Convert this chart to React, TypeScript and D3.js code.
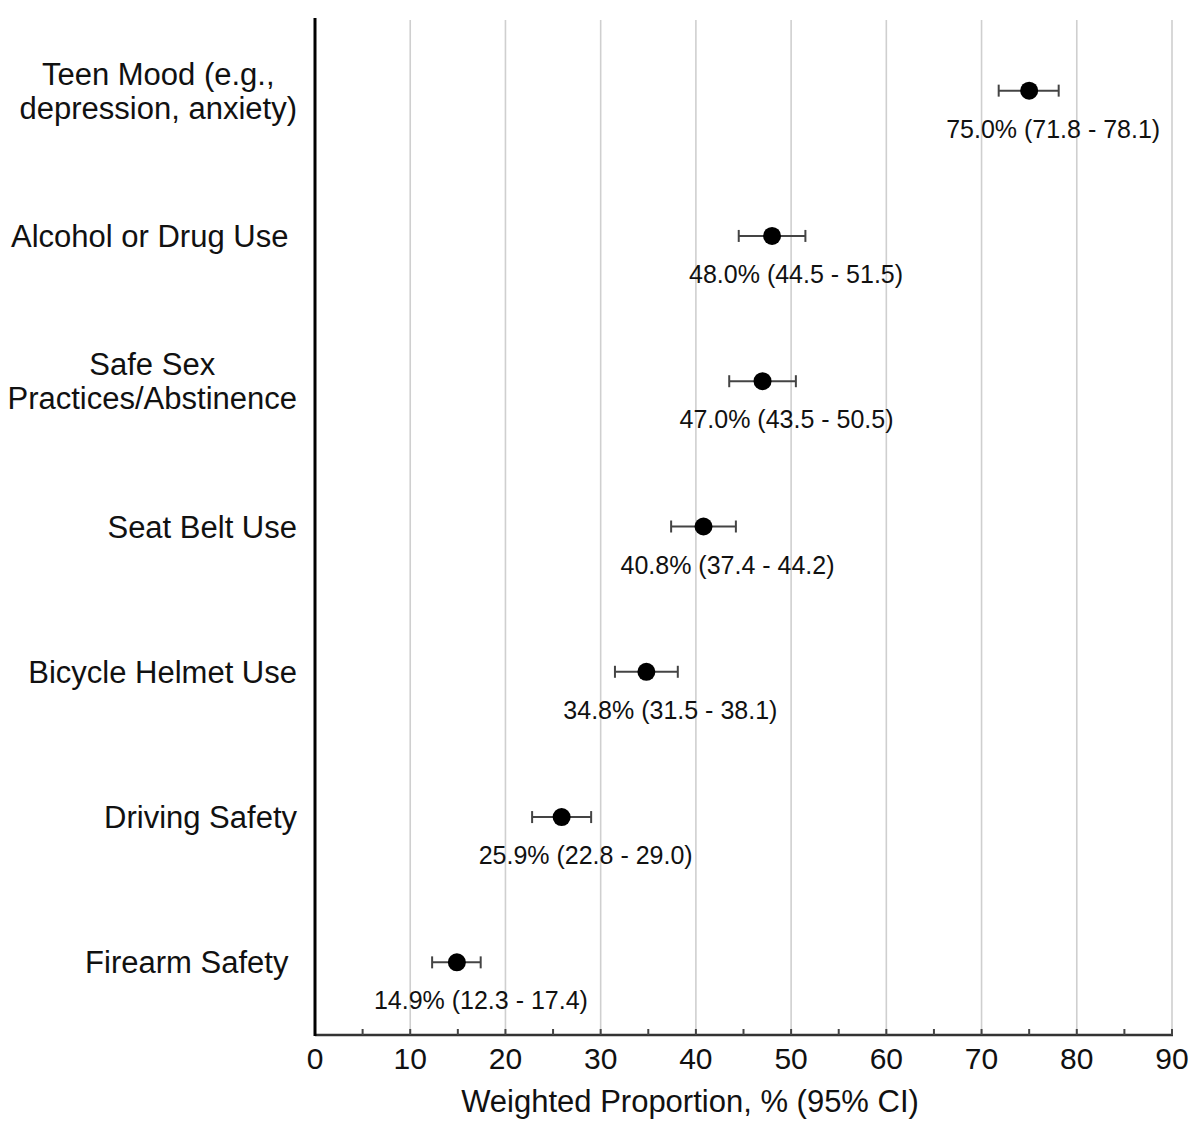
import React, { useEffect, useRef } from "react";
import * as d3 from "d3";

const categories = [
  "Teen Mood (e.g.,|depression, anxiety)",
  "Alcohol or Drug Use ",
  "Safe Sex|Practices/Abstinence",
  "Seat Belt Use",
  "Bicycle Helmet Use",
  "Driving Safety",
  "Firearm Safety ",
];
const estimates = [75.0, 48.0, 47.0, 40.8, 34.8, 25.9, 14.9];
const lowerCI = [71.8, 44.5, 43.5, 37.4, 31.5, 22.8, 12.3];
const upperCI = [78.1, 51.5, 50.5, 44.2, 38.1, 29.0, 17.4];
const xTicks = [0, 10, 20, 30, 40, 50, 60, 70, 80, 90];
const xTitle = "Weighted Proportion, % (95% CI)";

const W = 1200;
const H = 1131;
const FONT = "'Liberation Sans', Arial, Helvetica, sans-serif";

export default function App() {
  const ref = useRef<SVGSVGElement | null>(null);

  useEffect(() => {
    const svg = d3.select(ref.current);
    svg.selectAll("*").remove();

    const left = 315;
    const right = 1172;
    const top = 18;
    const bottom = 1035;

    const x = d3.scaleLinear().domain([0, 90]).range([left, right]);
    const y = d3
      .scaleBand<string>()
      .domain(categories)
      .range([top, bottom])
      .paddingInner(0)
      .paddingOuter(0);
    const yc = (c: string) => (y(c) as number) + y.bandwidth() / 2;

    // gridlines
    svg
      .append("g")
      .selectAll("line")
      .data(xTicks.filter((t) => t > 0))
      .join("line")
      .attr("x1", (d) => x(d))
      .attr("x2", (d) => x(d))
      .attr("y1", top + 2)
      .attr("y2", bottom)
      .attr("stroke", "#cfcfcf")
      .attr("stroke-width", 1.6);

    // x axis line
    svg
      .append("line")
      .attr("x1", left)
      .attr("x2", right + 1)
      .attr("y1", bottom)
      .attr("y2", bottom)
      .attr("stroke", "#333")
      .attr("stroke-width", 2.5);

    // minor ticks (every 5)
    const minor = d3.range(5, 91, 5);
    svg
      .append("g")
      .selectAll("line")
      .data(minor)
      .join("line")
      .attr("x1", (d) => x(d))
      .attr("x2", (d) => x(d))
      .attr("y1", bottom)
      .attr("y2", bottom - 6)
      .attr("stroke", "#444")
      .attr("stroke-width", 2);

    // y axis line
    svg
      .append("line")
      .attr("x1", left)
      .attr("x2", left)
      .attr("y1", top)
      .attr("y2", bottom + 1)
      .attr("stroke", "#000")
      .attr("stroke-width", 3);

    // tick labels
    svg
      .append("g")
      .selectAll("text")
      .data(xTicks)
      .join("text")
      .attr("x", (d) => x(d))
      .attr("y", bottom + 34)
      .attr("text-anchor", "middle")
      .attr("font-family", FONT)
      .attr("font-size", 30)
      .attr("fill", "#111")
      .text((d) => String(d));

    // axis title
    svg
      .append("text")
      .attr("x", 690)
      .attr("y", bottom + 77)
      .attr("text-anchor", "middle")
      .attr("font-family", FONT)
      .attr("font-size", 31)
      .attr("fill", "#111")
      .text(xTitle);

    // category labels
    const labelRight = 297;
    categories.forEach((c) => {
      const lines = c.split("|");
      const cy = yc(c);
      const lh = 34;
      const g = svg.append("g");
      const texts = lines.map((ln, i) =>
        g
          .append("text")
          .attr("y", cy + 11 + (i - (lines.length - 1) / 2) * lh)
          .attr("font-family", FONT)
          .attr("font-size", 31)
          .attr("fill", "#111")
          .style("white-space", "pre")
          .text(ln)
      );
      const widths = texts.map((t) => (t.node() as SVGTextElement).getComputedTextLength());
      const maxW = Math.max(...widths);
      const center = labelRight - maxW / 2;
      texts.forEach((t) => t.attr("x", center).attr("text-anchor", "middle"));
    });

    // error bars + points + labels
    const g = svg.append("g");
    categories.forEach((c, i) => {
      const cy = yc(c);
      g.append("line")
        .attr("x1", x(lowerCI[i]))
        .attr("x2", x(upperCI[i]))
        .attr("y1", cy)
        .attr("y2", cy)
        .attr("stroke", "#444")
        .attr("stroke-width", 2);
      [lowerCI[i], upperCI[i]].forEach((v) => {
        g.append("line")
          .attr("x1", x(v))
          .attr("x2", x(v))
          .attr("y1", cy - 6)
          .attr("y2", cy + 6)
          .attr("stroke", "#444")
          .attr("stroke-width", 2);
      });
      g.append("circle")
        .attr("cx", x(estimates[i]))
        .attr("cy", cy)
        .attr("r", 9)
        .attr("fill", "#000");
      g.append("text")
        .attr("x", x(estimates[i]) - 83)
        .attr("y", cy + 47)
        .attr("font-family", FONT)
        .attr("font-size", 25)
        .attr("fill", "#111")
        .text(
          `${estimates[i].toFixed(1)}% (${lowerCI[i].toFixed(1)} - ${upperCI[i].toFixed(1)})`
        );
    });
  }, []);

  return (
    <svg
      ref={ref}
      width={W}
      height={H}
      viewBox={`0 0 ${W} ${H}`}
      style={{ display: "block", position: "absolute", left: 0, top: 0, background: "#fff" }}
    />
  );
}
